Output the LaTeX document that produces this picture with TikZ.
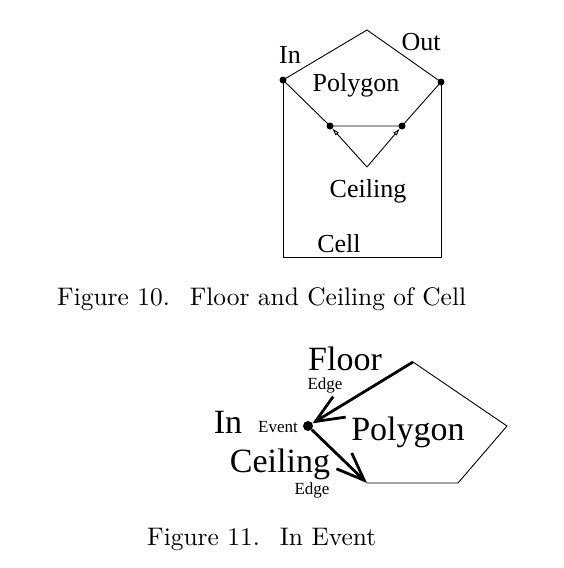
\documentclass[tikz,border=0pt]{standalone}
\usepackage{fontspec}
\newfontfamily\timesfont{Liberation Serif}
\newfontfamily\capfont{lmroman10-regular.otf}
\usetikzlibrary{arrows.meta}

\begin{document}
\begin{tikzpicture}[
    x=1pt, y=-1pt,
    dot/.style={circle, fill, inner sep=0pt, minimum size=7pt},
    celllabel/.style={font=\timesfont\fontsize{26}{30}\selectfont, inner sep=0pt, anchor=base},
    biglabel/.style={font=\timesfont\fontsize{34}{40}\selectfont, inner sep=0pt, anchor=base},
    smalllabel/.style={font=\timesfont\fontsize{17}{20}\selectfont, inner sep=0pt, anchor=base},
    figcaption/.style={font=\capfont\fontsize{25.4}{30}\selectfont, inner sep=0pt, anchor=base west},
    thin edge/.style={line width=0.9pt},
    thick edge/.style={line width=2.8pt},
]
    \useasboundingbox (0,0) rectangle (564,568);

    % Figure 10
    \coordinate (apex) at (367,30);
    \node[dot] (in) at (283,80) {};
    \node[dot] (out) at (441,82) {};
    \node[dot] (cl) at (330,126) {};
    \node[dot] (cr) at (402,126) {};
    \coordinate (ceil) at (367,167);
    \coordinate (cellbl) at (283,257);
    \coordinate (cellbr) at (441,257);

    \draw[thin edge] (in.center) -- (apex) -- (out.center) -- (cr.center) -- (cl.center) -- cycle;
    \draw[thin edge] (in.center) -- (cellbl) -- (cellbr) -- (out.center);
    \draw[thin edge, -{Triangle[open, length=7pt, width=4pt]}] (ceil) -- (cl);
    \draw[thin edge, -{Triangle[open, length=7pt, width=4pt]}] (ceil) -- (cr);

    \node[celllabel] (inlbl) at (290,63) {In};
    \node[celllabel] (outlbl) at (421,50) {Out};
    \node[celllabel] (polylbl) at (356,91) {Polygon};
    \node[celllabel] (ceillbl) at (368,197) {Ceiling};
    \node[celllabel] (celllbl) at (339,252) {Cell};

    \node[figcaption] (cap10) at (57,305) {Figure 10.\hspace{20pt}Floor and Ceiling of Cell};

    % Figure 11
    \node[dot, minimum size=10pt] (ev) at (308,426) {};
    \coordinate (ptop) at (413,362);
    \coordinate (pright) at (507,426);
    \coordinate (pbr) at (458,483);
    \coordinate (pbl) at (367,483);

    \draw[thin edge] (ptop) -- (pright) -- (pbr) -- (pbl);
    \draw[thick edge, {Straight Barb[length=28pt, width=24pt]}-] (ev) -- (ptop);
    \draw[thick edge, -{Straight Barb[length=28pt, width=22pt]}] (ev) -- (pbl);

    \node[biglabel] (floorlbl) at (345,370) {Floor};
    \node[smalllabel] (flooredge) at (325,389) {Edge};
    \node[biglabel] (inevlbl) at (228,433) {In};
    \node[smalllabel] (evlbl) at (278,432) {Event};
    \node[biglabel] (polylbl2) at (408,440) {Polygon};
    \node[biglabel] (ceillbl2) at (280,472) {Ceiling};
    \node[smalllabel] (ceiledge) at (312,494) {Edge};

    \node[figcaption] (cap11) at (147,545) {Figure 11.\hspace{20pt}In Event};
\end{tikzpicture}
\end{document}
